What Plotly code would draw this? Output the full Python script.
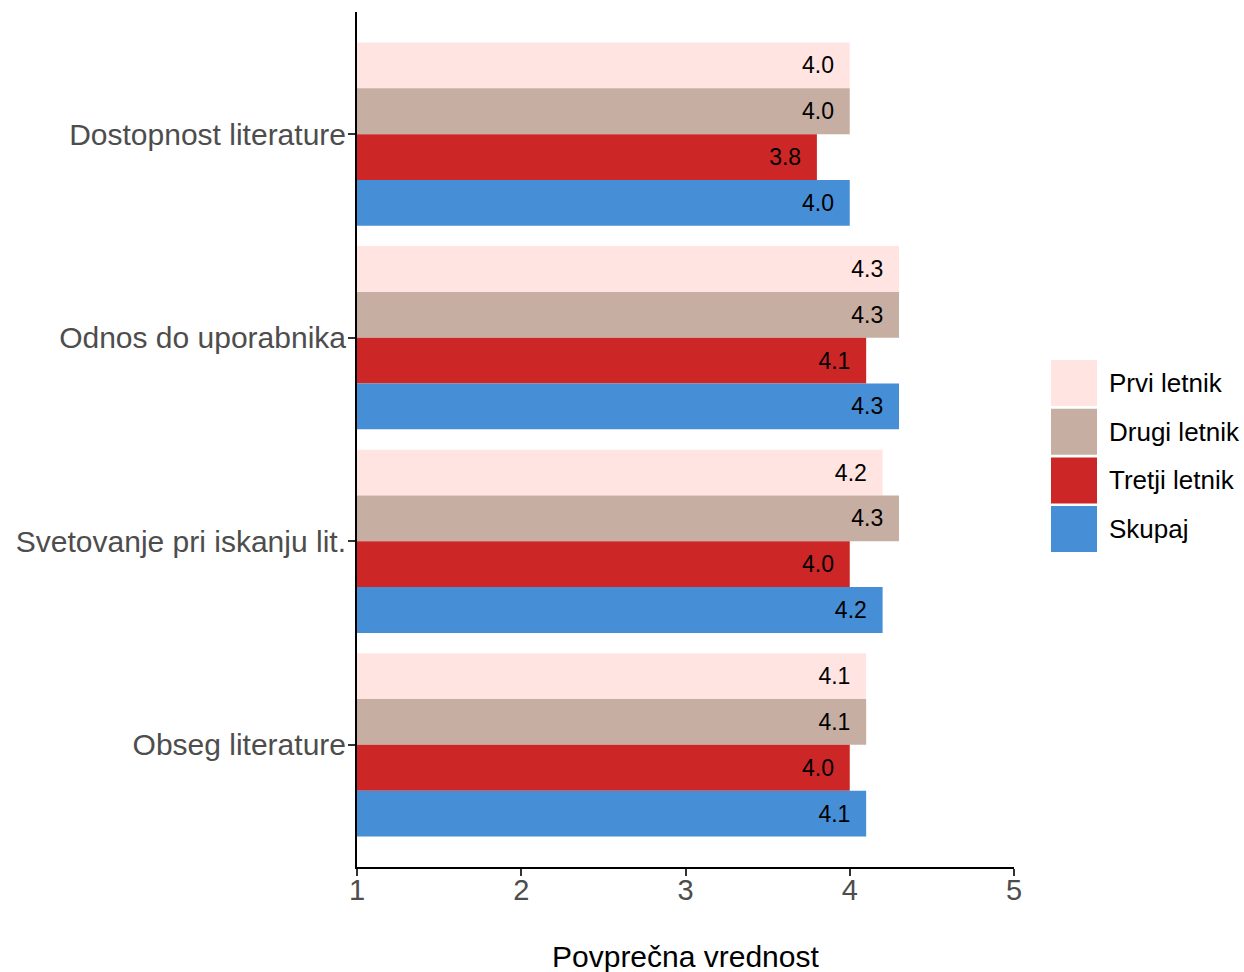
import plotly.graph_objects as go

categories = ["Dostopnost literature", "Odnos do uporabnika", "Svetovanje pri iskanju lit.", "Obseg literature"]
series_names = ["Prvi letnik", "Drugi letnik", "Tretji letnik", "Skupaj"]
prvi = [4.0, 4.3, 4.2, 4.1]
drugi = [4.0, 4.3, 4.3, 4.1]
tretji = [3.8, 4.1, 4.0, 4.0]
skupaj = [4.0, 4.3, 4.2, 4.1]
x_ticks = [1, 2, 3, 4, 5]
axis_title = "Povprečna vrednost"

colors = ["#FFE4E1", "#C7AEA2", "#CC2627", "#468ED6"]
series_values = [prvi, drugi, tretji, skupaj]

W, H = 1244, 972
# plot area in window pixel coordinates
PL, PR, PT, PB = 357, 1014, 12, 867
L, R, T, B = PL, W - PR, PT, H - PB
FONT = "Liberation Sans, Arial, sans-serif"


def px2paper_x(px):
    return (px - PL) / (PR - PL)


def px2paper_y(py):
    return (PB - py) / (PB - PT)


fig = go.Figure()
pad = "\u00a0\u00a0"
for name, vals, col in zip(series_names, series_values, colors):
    fig.add_trace(go.Bar(
        y=categories, x=vals, name=name, orientation="h",
        marker=dict(color=col, line=dict(width=0)),
        text=[f"{v:.1f}{pad}" for v in vals],
        textposition="inside", insidetextanchor="end", textangle=0,
        constraintext="none",
        insidetextfont=dict(family=FONT, size=23, color="black"),
        showlegend=False,
    ))

# manual legend (large square keys like the reference)
key_top = 360
key_h = 46
key_step = 48.7
for i, (name, col) in enumerate(zip(series_names, colors)):
    top = key_top + i * key_step
    fig.add_shape(type="rect", xref="paper", yref="paper",
                  x0=px2paper_x(1051), x1=px2paper_x(1097),
                  y0=px2paper_y(top + key_h), y1=px2paper_y(top),
                  fillcolor=col, line=dict(width=0))
    fig.add_annotation(xref="paper", yref="paper",
                       x=px2paper_x(1107), y=px2paper_y(top + key_h / 2),
                       text=name, showarrow=False, xanchor="left", yanchor="middle",
                       font=dict(family=FONT, size=26, color="black"))

# x-axis title
fig.add_annotation(xref="paper", yref="paper",
                   x=0.5, y=px2paper_y(956), text=axis_title, showarrow=False,
                   xanchor="center", yanchor="middle",
                   font=dict(family=FONT, size=30, color="black"))

fig.update_layout(
    width=W, height=H,
    margin=dict(l=L, r=R, t=T, b=B, autoexpand=False),
    barmode="group", bargap=0.1, bargroupgap=0,
    plot_bgcolor="white", paper_bgcolor="white",
    font=dict(family=FONT),
    hovermode=False,
    xaxis=dict(
        range=[1, 5], tickvals=x_ticks, ticktext=[str(t) for t in x_ticks],
        showgrid=False, zeroline=False, automargin=False,
        showline=True, linecolor="black", linewidth=2,
        ticks="outside", ticklen=7, tickwidth=1.5, tickcolor="#333333",
        ticklabelstandoff=-11,
        tickfont=dict(family=FONT, size=29, color="#4D4D4D"),
    ),
    yaxis=dict(
        categoryorder="array", categoryarray=categories,
        range=[3.6, -0.6], automargin=False,
        showgrid=False, zeroline=False,
        showline=True, linecolor="black", linewidth=2,
        ticks="outside", ticklen=7, tickwidth=1.5, tickcolor="#333333",
        ticklabelstandoff=-4,
        tickfont=dict(family=FONT, size=30, color="#4D4D4D"),
    ),
)

fig.write_html(
    "out.html",
    config={"displayModeBar": False},
    post_script="document.body.style.margin='0';"
                "document.documentElement.style.overflow='hidden';",
)
